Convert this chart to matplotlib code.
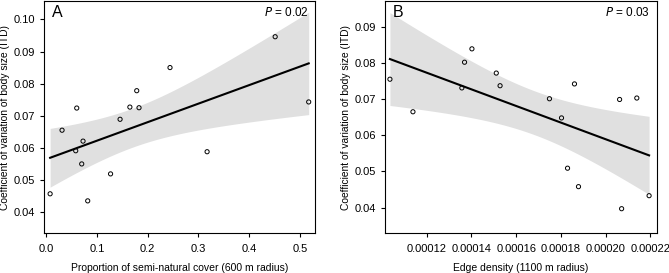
import numpy as np
import matplotlib
matplotlib.use("Agg")
import matplotlib.pyplot as plt

plt.rcParams["font.family"] = ["Liberation Sans", "DejaVu Sans"]

# Panel A: semi-natural cover vs CV of body size
cover = [0.008, 0.0315, 0.0604, 0.0584, 0.0728, 0.0702, 0.082, 0.127,
         0.1457, 0.165, 0.1785, 0.183, 0.244, 0.317, 0.451, 0.517]
cv_a = [0.0457, 0.0655, 0.0724, 0.0591, 0.0621, 0.0550, 0.0435, 0.0519,
        0.0689, 0.0727, 0.0778, 0.0725, 0.0850, 0.0588, 0.0946, 0.0743]

# Panel B: edge density vs CV of body size
edge = [0.0001035, 0.0001138, 0.0001357, 0.0001369, 0.0001402, 0.0001511,
        0.0001528, 0.0001749, 0.0001803, 0.000183, 0.0001861, 0.0001879,
        0.0002063, 0.0002072, 0.000214, 0.0002195]
cv_b = [0.0755, 0.0665, 0.0731, 0.0802, 0.0839, 0.0772, 0.0737, 0.0701,
        0.0648, 0.0509, 0.0742, 0.0458, 0.0699, 0.0397, 0.0703, 0.0433]

p_labels = ["0.02", "0.03"]
T_975 = 2.1448  # t quantile, df = 14


def lm_band(x, y, n_grid=100):
    x = np.asarray(x)
    y = np.asarray(y)
    b, a = np.polyfit(x, y, 1)
    resid = y - (a + b * x)
    n = len(x)
    s = np.sqrt(np.sum(resid ** 2) / (n - 2))
    sxx = np.sum((x - x.mean()) ** 2)
    xg = np.linspace(x.min(), x.max(), n_grid)
    yg = a + b * xg
    se = s * np.sqrt(1 / n + (xg - x.mean()) ** 2 / sxx)
    return xg, yg, yg - T_975 * se, yg + T_975 * se


def panel(ax, x, y, letter, p, xlabel, xlim, ylim, xticks, xfmt, yticks):
    xg, yg, lo, hi = lm_band(x, y)
    ax.fill_between(xg, lo, hi, color="#e0e0e0", lw=0)
    ax.plot(xg, yg, color="black", lw=1.5)
    ax.scatter(x, y, s=9, facecolors="none", edgecolors="black", linewidths=0.7, zorder=3)
    ax.set_xlim(*xlim)
    ax.set_ylim(*ylim)
    ax.set_xticks(xticks)
    ax.set_xticklabels([xfmt.format(v) for v in xticks])
    ax.set_yticks(yticks)
    ax.set_yticklabels(["{:.2f}".format(v) for v in yticks])
    ax.tick_params(direction="out", length=3.2, width=0.8, labelsize=8)
    ax.tick_params(axis="x", pad=4.3)
    ax.tick_params(axis="y", pad=3.2)
    for sp in ax.spines.values():
        sp.set_linewidth(0.8)
    ax.set_xlabel(xlabel, fontsize=7.5, labelpad=7)
    ax.set_ylabel("Coefficient of variation of body size (ITD)", fontsize=7.4, labelpad=2.5)
    ax.text(0.03, 0.985, letter, transform=ax.transAxes, fontsize=11.5,
            ha="left", va="top")
    ax.text(0.975, 0.98, r"$\it{P}$ = " + p, transform=ax.transAxes, fontsize=8.5,
            ha="right", va="top")


fig = plt.figure(figsize=(6.69, 2.73), dpi=100)
ax1 = fig.add_axes([0.0658, 0.1454, 0.4055, 0.8506])
ax2 = fig.add_axes([0.5755, 0.1454, 0.4061, 0.8506])

panel(ax1, cover, cv_a, "A", p_labels[0], "Proportion of semi-natural cover (600 m radius)",
      (-0.004, 0.530), (0.0334, 0.1057), [0.0, 0.1, 0.2, 0.3, 0.4, 0.5], "{:.1f}",
      [0.04, 0.05, 0.06, 0.07, 0.08, 0.09, 0.10])
panel(ax2, edge, cv_b, "B", p_labels[1], "Edge density (1100 m radius)",
      (0.0001013, 0.0002229), (0.0329, 0.0971),
      [0.00012, 0.00014, 0.00016, 0.00018, 0.00020, 0.00022], "{:.5f}",
      [0.04, 0.05, 0.06, 0.07, 0.08, 0.09])

fig.savefig("out.png", dpi=100)
